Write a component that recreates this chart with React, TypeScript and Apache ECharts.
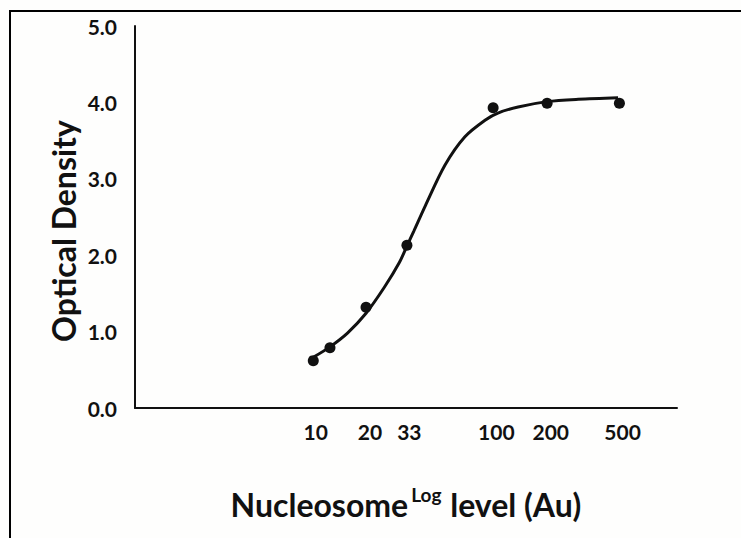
import React, { useEffect, useRef } from "react";
import * as echarts from "echarts";

// Measured points (Nucleosome level in Au, optical density)
const pointLevels = [9.7, 12, 19, 32, 96, 191, 480];
const pointDensity = [0.62, 0.79, 1.32, 2.13, 3.93, 3.99, 3.99];

// Fitted curve
const curveLevels = [9.8, 12, 15, 19, 24, 29, 32, 35, 40.5, 52, 67, 87, 102, 132, 191, 284, 472];
const curveDensity = [0.67, 0.8, 0.98, 1.24, 1.58, 1.9, 2.12, 2.32, 2.65, 3.18, 3.55, 3.77, 3.86, 3.94, 4.01, 4.04, 4.06];

// Axis tick labels
const xTickLabels = [10, 20, 33, 100, 200, 500];
const yTicks = [0, 1, 2, 3, 4, 5];

const FONT = "Lato, 'Open Sans', sans-serif";
const INK = "#111111";

export default function App() {
  const ref = useRef<HTMLDivElement>(null);

  useEffect(() => {
    if (!ref.current) return;
    const chart = echarts.init(ref.current, undefined, { renderer: "svg" });
    const lg = (v: number) => Math.log10(v);
    chart.setOption({
      animation: false,
      backgroundColor: "#fefefd",
      grid: { left: 135, right: 64, top: 26, bottom: 130, containLabel: false },
      xAxis: {
        type: "value",
        min: 0,
        max: 3,
        splitLine: { show: false },
        axisTick: { show: false },
        axisLine: { show: true, lineStyle: { color: INK, width: 2 } },
        axisLabel: {
          customValues: xTickLabels.map(lg),
          formatter: (v: number) => String(Math.round(Math.pow(10, v))),
          color: INK,
          fontFamily: FONT,
          fontWeight: "bold",
          fontSize: 21,
          margin: 13,
        },
        name: "{m|Nucleosome}{s|Log}{m| level (Au)}",
        nameLocation: "middle",
        nameGap: 77,
        nameTextStyle: {
          color: INK,
          fontFamily: FONT,
          rich: {
            m: { fontSize: 32, fontWeight: "bold", fontFamily: FONT, color: INK, lineHeight: 38 },
            s: { fontSize: 19, fontWeight: "bold", fontFamily: FONT, color: INK, lineHeight: 19, verticalAlign: "top", padding: [0, 1, 0, 3] },
          },
        },
      },
      yAxis: {
        type: "value",
        min: yTicks[0],
        max: yTicks[yTicks.length - 1],
        interval: 1,
        splitLine: { show: false },
        axisTick: { show: false },
        axisLine: { show: true, lineStyle: { color: INK, width: 2 } },
        axisLabel: {
          formatter: (v: number) => v.toFixed(1),
          color: INK,
          fontFamily: FONT,
          fontWeight: "bold",
          fontSize: 21,
          margin: 18,
        },
      },
      graphic: [
        {
          type: "rect",
          shape: { x: 10, y: 11, width: 900, height: 700 },
          style: { fill: "none", stroke: "#000", lineWidth: 2 },
          silent: true,
          z: 100,
        },
        {
          type: "text",
          x: 63,
          y: 231,
          rotation: Math.PI / 2,
          style: {
            text: "Optical Density",
            fill: INK,
            font: `bold 32px ${FONT}`,
            align: "center",
            verticalAlign: "middle",
          },
          silent: true,
        },
      ],
      series: [
        {
          type: "line",
          data: curveLevels.map((v, i) => [lg(v), curveDensity[i]]),
          smooth: 0.3,
          showSymbol: false,
          lineStyle: { color: INK, width: 3 },
          z: 2,
        },
        {
          type: "scatter",
          data: pointLevels.map((v, i) => [lg(v), pointDensity[i]]),
          symbol: "circle",
          symbolSize: 11,
          itemStyle: { color: INK, opacity: 1 },
          z: 3,
        },
      ],
    });
    return () => chart.dispose();
  }, []);

  return (
    <div
      ref={ref}
      style={{ position: "fixed", left: 0, top: 0, width: 741, height: 538 }}
    />
  );
}
